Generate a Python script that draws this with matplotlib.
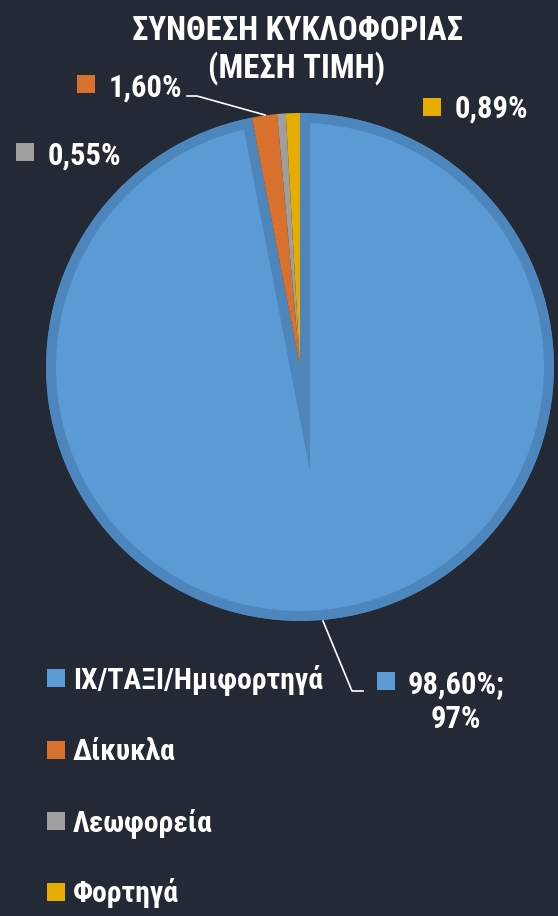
import matplotlib.pyplot as plt
from matplotlib.patches import Rectangle

# data
categories = ['ΙΧ/ΤΑΞΙ/Ημιφορτηγά', 'Δίκυκλα', 'Λεωφορεία', 'Φορτηγά']
values = [97, 1.60, 0.55, 0.89]
slice_labels = ['98,60%;\n97%', '1,60%', '0,55%', '0,89%']
title_lines = ['ΣΥΝΘΕΣΗ ΚΥΚΛΟΦΟΡΙΑΣ', '(ΜΕΣΗ ΤΙΜΗ)']

colors = ['#5b9ad4', '#d8712e', '#9f9f9f', '#e6ad00']
edge_blue = '#4c86bd'
bg = '#232a35'

W, H = 558, 916
plt.rcParams['font.family'] = ['Roboto Condensed', 'Open Sans Condensed', 'DejaVu Sans']
plt.rcParams['font.weight'] = 'bold'
plt.rcParams['font.stretch'] = 'condensed'

fig = plt.figure(figsize=(W / 100, H / 100), dpi=100, facecolor=bg)
ax = fig.add_axes([0, 0, 1, 1])
ax.set_facecolor(bg)


def Y(y):
    # pixel row from top -> data y
    return H - y


wedges, _ = ax.pie(values, colors=colors, startangle=90, counterclock=False,
                   center=(300, Y(367)), radius=254,
                   wedgeprops=dict(linewidth=0))
# darker inner outline on the main slice
wedges[0].set_edgecolor(edge_blue)
wedges[0].set_linewidth(14.4)
wedges[0].set_clip_on(True)
wedges[0].set_clip_path(wedges[0])

ax.set_xlim(0, W)
ax.set_ylim(0, H)
ax.set_aspect('equal')
ax.axis('off')

# title
ax.text(297, Y(40), title_lines[0], ha='center', va='baseline',
        color='white', fontsize=23.5)
ax.text(297, Y(78), title_lines[1], ha='center', va='baseline',
        color='white', fontsize=23.5)

# data labels: (square x, square top, text x, baseline, ha)
label_pos = [
    (377, 672, 456, 693, 'center'),
    (77, 75, 109, 97, 'left'),
    (16, 143, 48, 165, 'left'),
    (423, 98, 455, 118, 'left'),
]
for (sx, sy, tx, ty, ha), lab, c in zip(label_pos, slice_labels, colors):
    ax.add_patch(Rectangle((sx, Y(sy + 18)), 18, 18, color=c, lw=0))
    lines = lab.split('\n')
    for k, line in enumerate(lines):
        ax.text(tx, Y(ty + 35 * k), line, ha=ha, va='baseline',
                color='white', fontsize=22)

# leader lines
ax.plot([187, 197, 265], [Y(96), Y(96), Y(115)], color='white', lw=1.2)
ax.plot([323, 352, 363], [Y(621), Y(691), Y(691)], color='white', lw=1.2)

# legend
legend_rows = [678, 749.5, 821, 892]
for name, c, ry in zip(categories, colors, legend_rows):
    ax.add_patch(Rectangle((47, Y(ry + 9)), 18, 18, color=c, lw=0))
    ax.text(73, Y(ry + 10), name, ha='left', va='baseline',
            color='white', fontsize=21.3)

fig.savefig('out.png', dpi=100, facecolor=bg)
